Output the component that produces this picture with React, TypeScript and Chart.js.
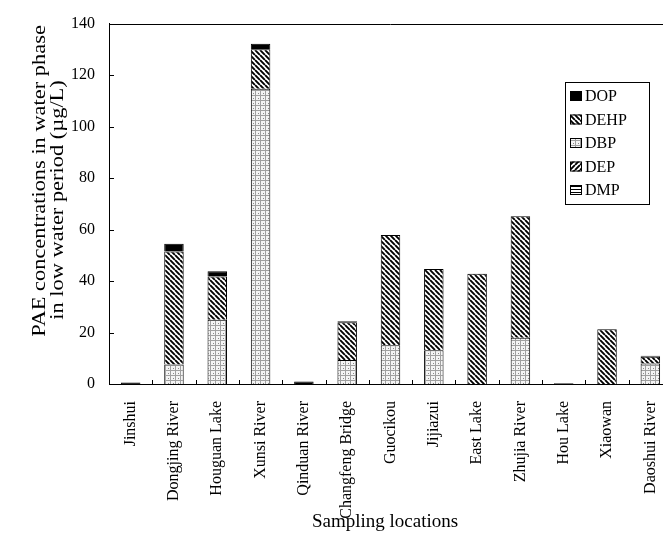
import React, { useEffect, useRef } from "react";
import { Chart, registerables } from "chart.js";

Chart.register(...registerables);

const categories = [
  "Jinshui",
  "Dongjing River",
  "Houguan Lake",
  "Xunsi River",
  "Qinduan River",
  "Changfeng Bridge",
  "Guocikou",
  "Jijiazui",
  "East Lake",
  "Zhujia River",
  "Hou Lake",
  "Xiaowan",
  "Daoshui River",
];

const DMP = [0, 0, 0, 0, 0, 0, 0, 0, 0, 0, 0, 0, 0];
const DEP = [0, 0, 0, 0, 0, 0, 0, 0, 0, 0, 0, 0, 0];
const DBP = [0, 7.6, 25.0, 114.7, 0, 9.3, 15.1, 13.1, 0, 18.0, 0, 0, 8.0];
const DEHP = [0, 43.9, 16.8, 15.3, 0, 14.7, 42.8, 31.6, 42.8, 47.2, 0, 21.3, 2.6];
const DOP = [0.6, 3.0, 2.0, 2.2, 1.0, 0.4, 0, 0, 0, 0, 0.3, 0, 0.4];

const yTicks = [0, 20, 40, 60, 80, 100, 120, 140];
const yTitle = ["PAE concentrations in water phase", "in low water period (\u00b5g/L)"];
const xTitle = "Sampling locations";
const legendOrder = ["DOP", "DEHP", "DBP", "DEP", "DMP"];

const FONT = "'Liberation Serif', 'Times New Roman', serif";

function makePattern(kind: string): CanvasPattern | string {
  if (kind === "DOP") return "#000000";
  const c = document.createElement("canvas");
  const ctx = c.getContext("2d")!;
  if (kind === "DEHP" || kind === "DEP") {
    const s = 5;
    c.width = s;
    c.height = s;
    ctx.fillStyle = "#ffffff";
    ctx.fillRect(0, 0, s, s);
    ctx.strokeStyle = "#000000";
    ctx.lineWidth = 1.9;
    ctx.beginPath();
    for (const o of [-s, 0, s]) {
      if (kind === "DEHP") {
        ctx.moveTo(o, 0);
        ctx.lineTo(o + s, s);
      } else {
        ctx.moveTo(o, s);
        ctx.lineTo(o + s, 0);
      }
    }
    ctx.stroke();
  } else if (kind === "DBP") {
    const s = 5;
    c.width = s;
    c.height = s;
    ctx.fillStyle = "#f4f4f4";
    ctx.fillRect(0, 0, s, s);
    ctx.fillStyle = "#a0a0a0";
    ctx.fillRect(0, 0, s, 1);
    ctx.fillRect(0, 0, 1, s);
    ctx.fillStyle = "#8a8a8a";
    ctx.fillRect(3, 3, 1, 1);
  } else {
    const s = 3;
    c.width = s;
    c.height = s;
    ctx.fillStyle = "#ffffff";
    ctx.fillRect(0, 0, s, s);
    ctx.fillStyle = "#000000";
    ctx.fillRect(0, 0, s, 1);
  }
  return ctx.createPattern(c, "repeat")!;
}

const decorPlugin = {
  id: "decor",
  afterDraw(chart: any) {
    const { ctx, chartArea: a, scales } = chart;
    const xs = scales.x;
    const ys = scales.y;
    ctx.save();
    ctx.strokeStyle = "#000";
    ctx.lineWidth = 1;
    ctx.beginPath();
    const ty = Math.round(a.top) + 0.5;
    ctx.moveTo(a.left, ty);
    ctx.lineTo(a.right, ty);
    for (const v of yTicks) {
      const py = Math.round(ys.getPixelForValue(v)) + 0.5;
      ctx.moveTo(a.left, py);
      ctx.lineTo(a.left + 5, py);
    }
    for (let i = 1; i < categories.length; i++) {
      const px = Math.round((xs.getPixelForValue(i - 1) + xs.getPixelForValue(i)) / 2) + 0.5;
      ctx.moveTo(px, a.bottom);
      ctx.lineTo(px, a.bottom - 4);
    }
    ctx.stroke();

    ctx.fillStyle = "#000";
    ctx.textAlign = "center";
    ctx.textBaseline = "middle";
    ctx.font = `19px ${FONT}`;
    const lines: [string, number, number][] = [
      [yTitle[0], 40, 181],
      [yTitle[1], 58, 200],
    ];
    for (const [t, cx, cy] of lines) {
      ctx.save();
      ctx.translate(cx, cy);
      ctx.rotate(-Math.PI / 2);
      ctx.scale(1.18, 1);
      ctx.fillText(t, 0, 0);
      ctx.restore();
    }
    ctx.font = `19px ${FONT}`;
    ctx.fillText(xTitle, 385, 522);

    const lx = 565.5;
    const ly = 82.5;
    ctx.strokeRect(lx, ly, 84, 122);
    ctx.font = `16px ${FONT}`;
    ctx.textAlign = "left";
    legendOrder.forEach((name, i) => {
      const ds = chart.data.datasets.find((d: any) => d.label === name);
      const cy = 96 + i * 23.5;
      ctx.fillStyle = ds.backgroundColor;
      ctx.fillRect(570, cy - 5, 12, 10);
      ctx.strokeStyle = "#000";
      ctx.strokeRect(570.5, cy - 4.5, 11, 9);
      ctx.fillStyle = "#000";
      ctx.fillText(name, 585, cy + 1);
    });
    ctx.restore();
  },
};

export default function App() {
  const ref = useRef<HTMLCanvasElement | null>(null);

  useEffect(() => {
    if (!ref.current) return;
    const series: [string, number[]][] = [
      ["DMP", DMP],
      ["DEP", DEP],
      ["DBP", DBP],
      ["DEHP", DEHP],
      ["DOP", DOP],
    ];
    const chart = new Chart(ref.current, {
      type: "bar",
      data: {
        labels: categories,
        datasets: series.map(([label, data]) => ({
          label,
          data,
          backgroundColor: makePattern(label) as any,
          borderColor: "#000",
          borderWidth: 1,
          barPercentage: 0.45,
          categoryPercentage: 1,
        })),
      },
      options: {
        responsive: false,
        devicePixelRatio: 1,
        animation: false,
        layout: { padding: { left: 0, right: 10, top: 22, bottom: 0 } },
        plugins: {
          legend: { display: false },
          tooltip: { enabled: false },
        },
        scales: {
          x: {
            stacked: true,
            grid: { display: false },
            border: { display: true, color: "#000", width: 1 },
            ticks: {
              autoSkip: false,
              minRotation: 90,
              maxRotation: 90,
              padding: 9,
              color: "#000",
              font: { family: FONT, size: 16 },
            },
            afterFit: (s: any) => {
              s.height = 150;
            },
          },
          y: {
            stacked: true,
            min: 0,
            max: 140,
            grid: { display: false, drawTicks: false },
            border: { display: true, color: "#000", width: 1 },
            ticks: {
              stepSize: 20,
              padding: 14,
              color: "#000",
              font: { family: FONT, size: 16 },
            },
            afterFit: (s: any) => {
              s.width = 109;
            },
          },
        },
      },
      plugins: [decorPlugin],
    });
    return () => chart.destroy();
  }, []);

  return (
    <div
      style={{
        position: "fixed",
        left: 0,
        top: 0,
        width: 663,
        height: 534,
        overflow: "hidden",
        background: "#fff",
      }}
    >
      <canvas ref={ref} width={682} height={534} style={{ display: "block", width: 682, height: 534 }} />
    </div>
  );
}
